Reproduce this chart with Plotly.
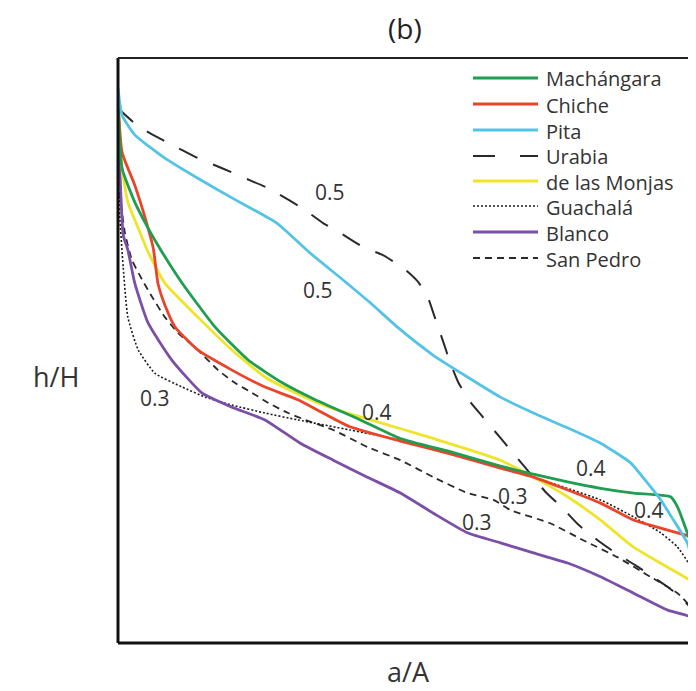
import plotly.graph_objects as go

# ---- data (a/A, h/H) ----
series_names = ["Machángara", "Chiche", "Pita", "Urabia", "de las Monjas",
                "Guachalá", "Blanco", "San Pedro"]

machangara_x = [0.0, 0.007, 0.029, 0.052, 0.076, 0.111, 0.168, 0.225, 0.284, 0.341, 0.419, 0.488, 0.574, 0.661, 0.708, 0.777, 0.834, 0.891, 0.955, 0.967, 0.978, 0.990, 0.998, 1.0]
machangara_y = [0.991, 0.862, 0.798, 0.749, 0.704, 0.645, 0.562, 0.500, 0.457, 0.425, 0.387, 0.352, 0.327, 0.300, 0.287, 0.270, 0.258, 0.249, 0.242, 0.223, 0.192, 0.155, 0.109, 0.057]

chiche_x = [0.0, 0.007, 0.029, 0.047, 0.061, 0.069, 0.081, 0.099, 0.138, 0.197, 0.254, 0.311, 0.401, 0.488, 0.574, 0.661, 0.718, 0.834, 0.891, 0.950, 1.0]
chiche_y = [0.991, 0.892, 0.830, 0.768, 0.711, 0.645, 0.604, 0.562, 0.519, 0.481, 0.449, 0.425, 0.374, 0.347, 0.323, 0.296, 0.279, 0.230, 0.198, 0.179, 0.164]

pita_x = [0.0, 0.007, 0.029, 0.081, 0.138, 0.197, 0.275, 0.332, 0.389, 0.436, 0.483, 0.545, 0.604, 0.661, 0.718, 0.777, 0.834, 0.886, 0.915, 0.938, 0.960, 0.984, 0.995, 1.0]
pita_y = [1.013, 0.962, 0.925, 0.881, 0.843, 0.806, 0.758, 0.702, 0.651, 0.608, 0.562, 0.509, 0.468, 0.430, 0.400, 0.372, 0.343, 0.306, 0.268, 0.236, 0.198, 0.155, 0.109, 0.047]

urabia_x = [0.0, 0.033, 0.067, 0.104, 0.138, 0.180, 0.220, 0.258, 0.318, 0.355, 0.384, 0.424, 0.458, 0.497, 0.519, 0.536, 0.548, 0.561, 0.574, 0.588, 0.609, 0.631, 0.661, 0.687, 0.713, 0.739, 0.768, 0.796, 0.829, 0.860, 0.894, 0.920, 0.946, 0.972, 0.993, 1.0]
urabia_y = [0.975, 0.943, 0.921, 0.900, 0.881, 0.862, 0.843, 0.825, 0.787, 0.758, 0.740, 0.713, 0.698, 0.670, 0.647, 0.617, 0.579, 0.538, 0.496, 0.458, 0.421, 0.392, 0.353, 0.319, 0.285, 0.251, 0.221, 0.189, 0.160, 0.136, 0.113, 0.094, 0.075, 0.053, 0.028, 0.009]

monjas_x = [0.0, 0.007, 0.017, 0.035, 0.052, 0.081, 0.138, 0.197, 0.254, 0.311, 0.372, 0.431, 0.545, 0.661, 0.718, 0.777, 0.834, 0.891, 0.950, 0.995, 1.0]
monjas_y = [0.991, 0.862, 0.798, 0.749, 0.704, 0.645, 0.581, 0.519, 0.468, 0.436, 0.408, 0.389, 0.352, 0.311, 0.279, 0.242, 0.198, 0.147, 0.109, 0.079, 0.062]

guachala_x = [0.0, 0.003, 0.009, 0.017, 0.035, 0.064, 0.111, 0.151, 0.197, 0.254, 0.311, 0.401, 0.488, 0.574, 0.661, 0.718, 0.834, 0.891, 0.938, 0.967, 0.990, 1.0]
guachala_y = [0.900, 0.774, 0.675, 0.581, 0.519, 0.475, 0.449, 0.430, 0.415, 0.400, 0.387, 0.368, 0.349, 0.325, 0.298, 0.279, 0.236, 0.204, 0.174, 0.147, 0.109, 0.066]

blanco_x = [0.0, 0.003, 0.009, 0.017, 0.029, 0.052, 0.093, 0.145, 0.197, 0.254, 0.315, 0.372, 0.431, 0.488, 0.545, 0.604, 0.661, 0.718, 0.777, 0.834, 0.891, 0.950, 0.990, 1.0]
blanco_y = [0.915, 0.862, 0.736, 0.708, 0.645, 0.570, 0.500, 0.438, 0.411, 0.387, 0.343, 0.311, 0.279, 0.249, 0.211, 0.174, 0.155, 0.136, 0.117, 0.091, 0.060, 0.028, 0.015, 0.0]

sanpedro_x = [0.0, 0.012, 0.024, 0.042, 0.059, 0.081, 0.104, 0.138, 0.173, 0.202, 0.232, 0.260, 0.294, 0.324, 0.372, 0.431, 0.488, 0.545, 0.604, 0.649, 0.678, 0.747, 0.804, 0.863, 0.920, 0.967, 0.995, 1.0]
sanpedro_y = [0.840, 0.740, 0.689, 0.651, 0.619, 0.581, 0.551, 0.519, 0.481, 0.457, 0.438, 0.419, 0.400, 0.387, 0.368, 0.336, 0.311, 0.279, 0.249, 0.236, 0.217, 0.192, 0.160, 0.128, 0.091, 0.060, 0.028, 0.019]

# contour-like value labels: (text, x, y)
label_text = ["0.5", "0.5", "0.3", "0.4", "0.4", "0.4", "0.3", "0.3"]
label_x = [0.367, 0.346, 0.064, 0.448, 0.817, 0.917, 0.683, 0.621]
label_y = [0.817, 0.632, 0.428, 0.402, 0.296, 0.217, 0.243, 0.194]

# ---- styles ----
styles = {
    "Machángara": dict(color="#1f9d50", width=2.8, dash="solid"),
    "Chiche": dict(color="#e8452b", width=2.8, dash="solid"),
    "Pita": dict(color="#55c3e6", width=2.8, dash="solid"),
    "Urabia": dict(color="#2a2a2a", width=2.0, dash="20px,17px"),
    "de las Monjas": dict(color="#eee42a", width=2.8, dash="solid"),
    "Guachalá": dict(color="#1a1a1a", width=1.6, dash="2px,2px"),
    "Blanco": dict(color="#7b4fa6", width=2.8, dash="solid"),
    "San Pedro": dict(color="#2a2a2a", width=1.8, dash="7px,5px"),
}
data = {
    "Machángara": (machangara_x, machangara_y),
    "Chiche": (chiche_x, chiche_y),
    "Pita": (pita_x, pita_y),
    "Urabia": (urabia_x, urabia_y),
    "de las Monjas": (monjas_x, monjas_y),
    "Guachalá": (guachala_x, guachala_y),
    "Blanco": (blanco_x, blanco_y),
    "San Pedro": (sanpedro_x, sanpedro_y),
}
draw_order = ["Urabia", "San Pedro", "Guachalá", "Blanco", "de las Monjas",
              "Chiche", "Machángara", "Pita"]

fig = go.Figure()
for name in draw_order:
    xs, ys = data[name]
    fig.add_trace(go.Scatter(x=xs, y=ys, mode="lines", name=name,
                             line=dict(shape="spline", smoothing=0.5, **styles[name]),
                             showlegend=False, hoverinfo="skip"))

# the page adds an 8px body margin, so the figure is laid out in page pixels minus 8
OFF = 8
W, H = 688, 683
PLOT_L, PLOT_T, PLOT_R, PLOT_B = 118, 58, 696, 643   # page pixels
L, T = PLOT_L - OFF, PLOT_T - OFF
R = W - (PLOT_R - OFF)
B = H - (PLOT_B - OFF)
pw, ph = PLOT_R - PLOT_L, PLOT_B - PLOT_T


def px2paper_x(px):
    return (px - PLOT_L) / pw


def px2paper_y(py):
    return (PLOT_B - py) / ph


text_font = "Open Sans"
text_color = "#333333"
annotations = []
for t, x, y in zip(label_text, label_x, label_y):
    annotations.append(dict(x=x, y=y, xref="x", yref="y", text=t, showarrow=False,
                            xanchor="center", yanchor="middle",
                            font=dict(family=text_font, size=21, color=text_color)))

# manual legend
legend_rows_py = [79, 105, 131, 157, 182, 207, 233, 259]
shapes = []
for name, py in zip(series_names, legend_rows_py):
    st = styles[name]
    dash = st["dash"]
    if name == "Urabia":
        dash = "22px,25px"
    shapes.append(dict(type="line", xref="paper", yref="paper",
                       x0=px2paper_x(473), x1=px2paper_x(538),
                       y0=px2paper_y(py - 1), y1=px2paper_y(py - 1),
                       line=dict(color=st["color"], width=st["width"], dash=dash)))
    annotations.append(dict(x=px2paper_x(544), y=px2paper_y(py), xref="paper", yref="paper",
                            text=name, showarrow=False, xanchor="left", yanchor="middle",
                            font=dict(family=text_font, size=20, color=text_color)))

# frame (left, top, bottom)
shapes.append(dict(type="line", xref="paper", yref="paper", x0=0, x1=0, y0=0, y1=1,
                   line=dict(color="#111", width=3)))
shapes.append(dict(type="line", xref="paper", yref="paper", x0=0, x1=1.02, y0=0, y1=0,
                   line=dict(color="#111", width=3)))
shapes.append(dict(type="line", xref="paper", yref="paper", x0=0, x1=1.02, y0=1, y1=1,
                   line=dict(color="#222", width=2)))

# title and axis labels
annotations.append(dict(x=px2paper_x(405), y=px2paper_y(28), xref="paper", yref="paper",
                        text="(b)", showarrow=False, xanchor="center", yanchor="middle",
                        font=dict(family=text_font, size=28, color="#222")))
annotations.append(dict(x=px2paper_x(56), y=px2paper_y(376), xref="paper", yref="paper",
                        text="h/H", showarrow=False, xanchor="center", yanchor="middle",
                        font=dict(family=text_font, size=27, color=text_color)))
annotations.append(dict(x=px2paper_x(408), y=px2paper_y(671), xref="paper", yref="paper",
                        text="a/A", showarrow=False, xanchor="center", yanchor="middle",
                        font=dict(family=text_font, size=27, color=text_color)))

fig.update_layout(
    width=W, height=H,
    margin=dict(l=L, r=R, t=T, b=B),
    paper_bgcolor="white", plot_bgcolor="white",
    xaxis=dict(range=[0, 0.999], showgrid=False, zeroline=False, showticklabels=False,
               ticks="", showline=False),
    yaxis=dict(range=[-0.034, 1.070], showgrid=False, zeroline=False, showticklabels=False,
               ticks="", showline=False),
    shapes=shapes,
    annotations=annotations,
    showlegend=False,
)

fig.write_html("out.html")
